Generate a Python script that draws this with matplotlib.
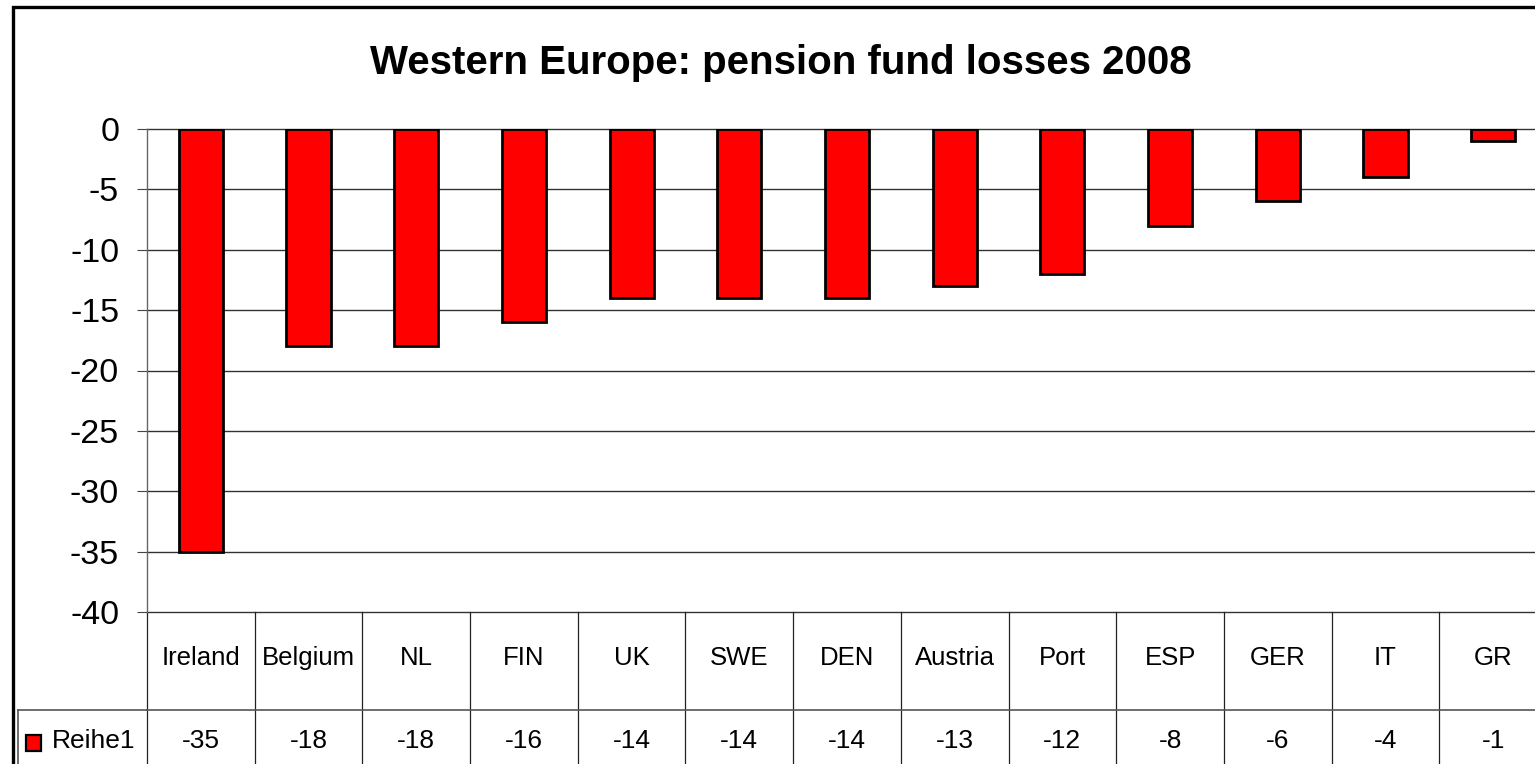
import matplotlib
matplotlib.use("Agg")
import matplotlib.pyplot as plt
from matplotlib.lines import Line2D
from matplotlib.patches import Rectangle
import matplotlib.transforms as mtransforms

plt.rcParams['font.family'] = ['Liberation Sans', 'DejaVu Sans']

categories = ["Ireland", "Belgium", "NL", "FIN", "UK", "SWE", "DEN", "Austria", "Port", "ESP", "GER", "IT", "GR"]
values = [-35, -18, -18, -16, -14, -14, -14, -13, -12, -8, -6, -4, -1]
series_name = "Reihe1"
title = "Western Europe: pension fund losses 2008"
yticks = [0, -5, -10, -15, -20, -25, -30, -35, -40]

W, H = 1535, 764
fig = plt.figure(figsize=(W / 100, H / 100), dpi=100)
fig.patch.set_facecolor("white")

left_px, right_px, top_px, bot_px = 147, 1547, 129, 612
ax = fig.add_axes([left_px / W, (H - bot_px) / H, (right_px - left_px) / W, (bot_px - top_px) / H])
ax.set_facecolor("white")

n = len(categories)
x = list(range(n))
ax.bar(x, values, width=0.41, color="#FF0000", edgecolor="black", linewidth=2.0, zorder=3)

ax.set_xlim(-0.5, n - 0.5)
ax.set_ylim(-40, 0)
ax.set_yticks(yticks)
ax.set_yticklabels([str(t) for t in yticks], fontsize=24.5)
ax.tick_params(axis="y", direction="out", length=7, width=0.8, color="#444444", pad=13)
ax.set_xticks([])
for t in yticks:
    ax.axhline(t, color="#333333", linewidth=1.0, zorder=1, clip_on=False)
for s in ["top", "right", "bottom"]:
    ax.spines[s].set_visible(False)
ax.spines["left"].set_color("#666666")
ax.spines["left"].set_linewidth(1.0)

# data table below the plot
trans = mtransforms.blended_transform_factory(ax.transData, ax.transAxes)
row1_bot = (bot_px - 710) / (bot_px - top_px)
row2_bot = (bot_px - 830) / (bot_px - top_px)
lc = "#222222"
for i in range(n + 1):
    xv = i - 0.5
    ax.add_line(Line2D([xv, xv], [0, row2_bot], transform=trans, color=lc, lw=0.9, clip_on=False))
ax.add_line(Line2D([-0.5, n - 0.5], [row1_bot, row1_bot], transform=trans, color="#555555", lw=1.2, clip_on=False))
for i, (c, v) in enumerate(zip(categories, values)):
    ax.text(i, (bot_px - 658) / (bot_px - top_px), c, transform=trans, ha="center", va="center", fontsize=18.5)
    ax.text(i, (bot_px - 741) / (bot_px - top_px), str(v), transform=trans, ha="center", va="center", fontsize=19)

# legend header cell in value row
fig.add_artist(Line2D([18 / W, left_px / W], [(H - 710) / H, (H - 710) / H], transform=fig.transFigure, color="#555555", lw=1.2))
fig.add_artist(Line2D([18 / W, 18 / W], [(H - 710) / H, -0.1], transform=fig.transFigure, color="#555555", lw=1.2))
fig.add_artist(Rectangle((26 / W, (H - 751) / H), 15 / W, 16 / H, transform=fig.transFigure,
                         facecolor="#FF0000", edgecolor="black", lw=1.6))
fig.text(52 / W, (H - 741) / H, series_name, ha="left", va="center", fontsize=19)

# title
fig.text(781 / W, (H - 63) / H, title, ha="center", va="center", fontsize=29, fontweight="bold")

# chart area frame
fig.add_artist(Rectangle((13 / W, -0.1), (1549 - 13) / W, (H - 7) / H + 0.1, transform=fig.transFigure,
                         fill=False, edgecolor="black", lw=2.4))

fig.savefig("out.png", dpi=100, facecolor="white")
